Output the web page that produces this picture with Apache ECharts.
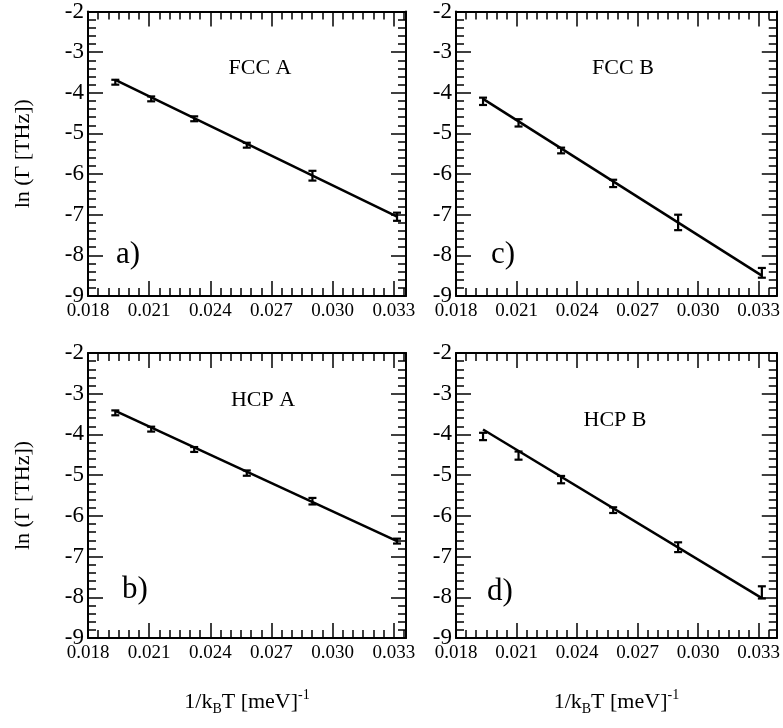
<!DOCTYPE html>
<html>
<head>
<meta charset="utf-8">
<script src="https://cdn.jsdelivr.net/npm/echarts@6/dist/echarts.min.js"></script>
<style>
html,body{margin:0;padding:0;background:#fff;}
#chart{width:783px;height:728px;}
</style>
</head>
<body>
<div id="chart"></div>
<script>
// ---- data ----
const xVals = [0.01934, 0.0211, 0.02321, 0.02579, 0.02901, 0.03316];

const fccA    = [-3.74, -4.15, -4.64, -5.29, -6.04, -7.05];
const fccAErr = [0.06, 0.06, 0.06, 0.06, 0.12, 0.10];
const fccAFit = [-3.68, -7.05];

const fccB    = [-4.21, -4.74, -5.42, -6.23, -7.19, -8.43];
const fccBErr = [0.09, 0.09, 0.07, 0.09, 0.19, 0.12];
const fccBFit = [-4.15, -8.50];

const hcpA    = [-3.47, -3.87, -4.37, -4.95, -5.64, -6.62];
const hcpAErr = [0.06, 0.06, 0.06, 0.065, 0.08, 0.06];
const hcpAFit = [-3.42, -6.62];

const hcpB    = [-4.05, -4.52, -5.11, -5.86, -6.77, -7.88];
const hcpBErr = [0.09, 0.10, 0.09, 0.07, 0.12, 0.15];
const hcpBFit = [-3.88, -8.02];

const panelNames  = ['FCC A', 'FCC B', 'HCP A', 'HCP B'];
const panelLetters = ['a)', 'c)', 'b)', 'd)'];
const xTickMin = 0.018, xTickStep = 0.003;
const yTickMin = -9, yTickMax = -2, yTickStep = 1;
const yTitle = 'ln (Γ [THz])';

// ---- layout ----
const FONT = '"Liberation Serif", "Times New Roman", serif';
const grids = [
  {left: 88,  top: 10,  width: 318, height: 286},
  {left: 456, top: 10,  width: 324, height: 286},
  {left: 88,  top: 353, width: 318, height: 285},
  {left: 456, top: 353, width: 324, height: 285}
];
const xMaxes = [0.0336, 0.0339, 0.0336, 0.0339];
const panels = [
  {y: fccA, e: fccAErr, fit: fccAFit},
  {y: fccB, e: fccBErr, fit: fccBFit},
  {y: hcpA, e: hcpAErr, fit: hcpAFit},
  {y: hcpB, e: hcpBErr, fit: hcpBFit}
];

const xAxes = [], yAxes = [], series = [];
const lineW = 2;

grids.forEach((g, i) => {
  const common = {
    gridIndex: i, type: 'value', min: xTickMin, max: xMaxes[i], interval: xTickStep,
    axisLine: {show: true, onZero: false, lineStyle: {color: '#000', width: lineW}},
    axisTick: {show: true, inside: true, length: 15, lineStyle: {color: '#000', width: 1.5}},
    minorTick: {show: true, splitNumber: 6, length: 8, lineStyle: {color: '#000', width: 1.5}},
    splitLine: {show: false}, minorSplitLine: {show: false}
  };
  const bottom = Object.assign({}, common, {
    position: 'bottom',
    axisLabel: {show: true, showMaxLabel: false, color: '#000', fontFamily: FONT, fontSize: 19, margin: 6,
      formatter: v => v.toFixed(3)}
  });
  if (i >= 2) {
    bottom.name = '1/k{s|B}T [meV]{p|-1}';
    bottom.nameLocation = 'middle';
    bottom.nameGap = 50;
    bottom.nameTextStyle = {
      color: '#000', fontFamily: FONT, fontSize: 22,
      rich: {
        s: {fontFamily: FONT, fontSize: 14, color: '#000', verticalAlign: 'bottom', padding: [14, 0, 0, 0]},
        p: {fontFamily: FONT, fontSize: 14, color: '#000', verticalAlign: 'top', padding: [0, 0, 14, 0]}
      }
    };
  }
  const top = Object.assign({}, common, {position: 'top', axisLabel: {show: false}});
  xAxes.push(bottom, top);

  const ycommon = {
    gridIndex: i, type: 'value', min: yTickMin, max: yTickMax, interval: yTickStep,
    axisLine: {show: true, onZero: false, lineStyle: {color: '#000', width: lineW}},
    axisTick: {show: true, inside: true, length: 15, lineStyle: {color: '#000', width: 1.5}},
    minorTick: {show: true, splitNumber: 5, length: 8, lineStyle: {color: '#000', width: 1.5}},
    splitLine: {show: false}, minorSplitLine: {show: false}
  };
  const left = Object.assign({}, ycommon, {
    position: 'left',
    axisLabel: {show: true, color: '#000', fontFamily: FONT, fontSize: 23, margin: 4}
  });
  if (i === 0 || i === 2) {
    left.name = yTitle;
    left.nameLocation = 'middle';
    left.nameGap = 54;
    left.nameTextStyle = {color: '#000', fontFamily: FONT, fontSize: 22};
  }
  const right = Object.assign({}, ycommon, {position: 'right', axisLabel: {show: false}});
  yAxes.push(left, right);

  const p = panels[i];
  series.push({
    type: 'line', xAxisIndex: 2 * i, yAxisIndex: 2 * i,
    data: [[xVals[0], p.fit[0]], [xVals[xVals.length - 1], p.fit[1]]],
    symbol: 'none', lineStyle: {color: '#000', width: 2.5}, z: 3
  });
  series.push({
    type: 'custom', xAxisIndex: 2 * i, yAxisIndex: 2 * i,
    data: xVals.map((x, k) => [x, p.y[k], p.e[k]]),
    renderItem: function (params, api) {
      const x = api.value(0), y = api.value(1), e = api.value(2);
      const t = api.coord([x, y + e]), b = api.coord([x, y - e]);
      const w = 4;
      const st = {stroke: '#000', lineWidth: 2.2};
      return {type: 'group', children: [
        {type: 'line', shape: {x1: t[0], y1: t[1], x2: b[0], y2: b[1]}, style: st},
        {type: 'line', shape: {x1: t[0] - w, y1: t[1], x2: t[0] + w, y2: t[1]}, style: st},
        {type: 'line', shape: {x1: b[0] - w, y1: b[1], x2: b[0] + w, y2: b[1]}, style: st}
      ]};
    },
    z: 4
  });
});

const labelPos = [
  {name: [260, 68],  letter: [116, 255]},
  {name: [623, 68],  letter: [491, 255]},
  {name: [263, 400], letter: [122, 590]},
  {name: [615, 420], letter: [487, 592]}
];
const graphic = [];
labelPos.forEach((lp, i) => {
  graphic.push({type: 'text', style: {text: panelNames[i], x: lp.name[0], y: lp.name[1],
    font: '22px ' + FONT, fill: '#000', textAlign: 'center', textVerticalAlign: 'middle', align: 'center', verticalAlign: 'middle'}});
  graphic.push({type: 'text', style: {text: panelLetters[i], x: lp.letter[0], y: lp.letter[1],
    font: '31px ' + FONT, fill: '#000', textAlign: 'left', textVerticalAlign: 'middle', align: 'left', verticalAlign: 'middle'}});
});

const chart = echarts.init(document.getElementById('chart'), null, {renderer: 'canvas'});
chart.setOption({
  animation: false,
  backgroundColor: '#fff',
  grid: grids,
  xAxis: xAxes,
  yAxis: yAxes,
  series: series,
  graphic: graphic
});
</script>
</body>
</html>
